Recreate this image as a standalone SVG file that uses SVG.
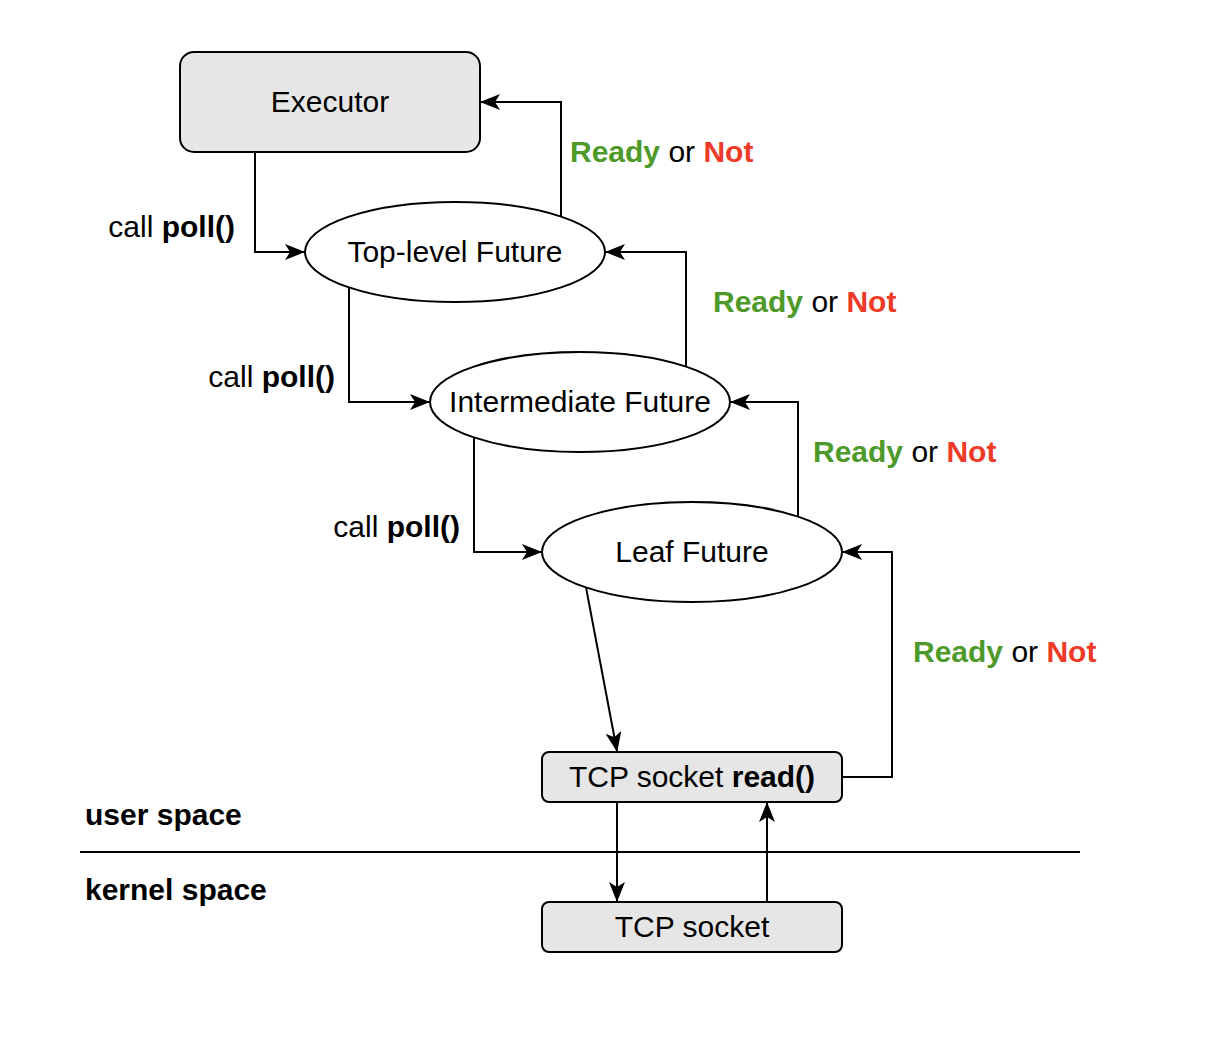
<svg xmlns="http://www.w3.org/2000/svg" width="1206" height="1046" viewBox="0 0 1206 1046">
<style>
.box{fill:#e6e6e6;stroke:#000;stroke-width:2}
.ell{fill:#fff;stroke:#000;stroke-width:2}
.t{font-family:"Liberation Sans",Arial,Helvetica,sans-serif;font-size:30px;fill:#000}
.c{text-anchor:middle}
.e{text-anchor:end}
.b{font-weight:bold}
.g{fill:#4d9a2a;font-weight:bold}
.r{fill:#ee3a26;font-weight:bold}
.ln{fill:none;stroke:#000;stroke-width:2}
</style>
<defs>
<marker id="arr" viewBox="0 0 20 16" refX="19" refY="8" markerWidth="20" markerHeight="16" markerUnits="userSpaceOnUse" orient="auto">
<path d="M0,0 L20,8 L0,16 L5,8 Z" fill="#000"/>
</marker>
</defs>
<rect width="1206" height="1046" fill="#fff"/>
<g id="connectors">
<path class="ln" marker-end="url(#arr)" d="M255,152 V252 H304"/>
<path class="ln" marker-end="url(#arr)" d="M561,216.6 V102 H481"/>
<path class="ln" marker-end="url(#arr)" d="M349,287.4 V402 H429"/>
<path class="ln" marker-end="url(#arr)" d="M686,366.6 V252 H606"/>
<path class="ln" marker-end="url(#arr)" d="M474,437.4 V552 H541"/>
<path class="ln" marker-end="url(#arr)" d="M798,516.6 V402 H731"/>
<path class="ln" marker-end="url(#arr)" d="M586,587.4 L617,751"/>
<path class="ln" marker-end="url(#arr)" d="M842,777 H892 V552 H843"/>
<path class="ln" marker-end="url(#arr)" d="M617,802 V901"/>
<path class="ln" marker-end="url(#arr)" d="M767,902 V803"/>
<line class="ln" x1="80" y1="852" x2="1080" y2="852"/>
</g>
<g id="executor">
<rect class="box" x="180" y="52" width="300" height="100" rx="14"/>
<text class="t c" x="330" y="112">Executor</text>
</g>
<g id="top-level">
<ellipse class="ell" cx="455" cy="252" rx="150" ry="50"/>
<text class="t c" x="455" y="262">Top-level Future</text>
</g>
<g id="intermediate">
<ellipse class="ell" cx="580" cy="402" rx="150" ry="50"/>
<text class="t c" x="580" y="412">Intermediate Future</text>
</g>
<g id="leaf">
<ellipse class="ell" cx="692" cy="552" rx="150" ry="50"/>
<text class="t c" x="692" y="562">Leaf Future</text>
</g>
<g id="tcp-read">
<rect class="box" x="542" y="752" width="300" height="50" rx="7"/>
<text class="t c" x="692" y="787">TCP socket <tspan class="b">read()</tspan></text>
</g>
<g id="tcp-socket">
<rect class="box" x="542" y="902" width="300" height="50" rx="7"/>
<text class="t c" x="692" y="937">TCP socket</text>
</g>
<g id="labels">
<text class="t" x="570" y="162"><tspan class="g">Ready</tspan> or <tspan class="r">Not</tspan></text>
<text class="t" x="713" y="312"><tspan class="g">Ready</tspan> or <tspan class="r">Not</tspan></text>
<text class="t" x="813" y="462"><tspan class="g">Ready</tspan> or <tspan class="r">Not</tspan></text>
<text class="t" x="913" y="662"><tspan class="g">Ready</tspan> or <tspan class="r">Not</tspan></text>
<text class="t e" x="235" y="237">call <tspan class="b">poll()</tspan></text>
<text class="t e" x="335" y="387">call <tspan class="b">poll()</tspan></text>
<text class="t e" x="460" y="537">call <tspan class="b">poll()</tspan></text>
<text class="t b" x="85" y="825">user space</text>
<text class="t b" x="85" y="900">kernel space</text>
</g>
</svg>
